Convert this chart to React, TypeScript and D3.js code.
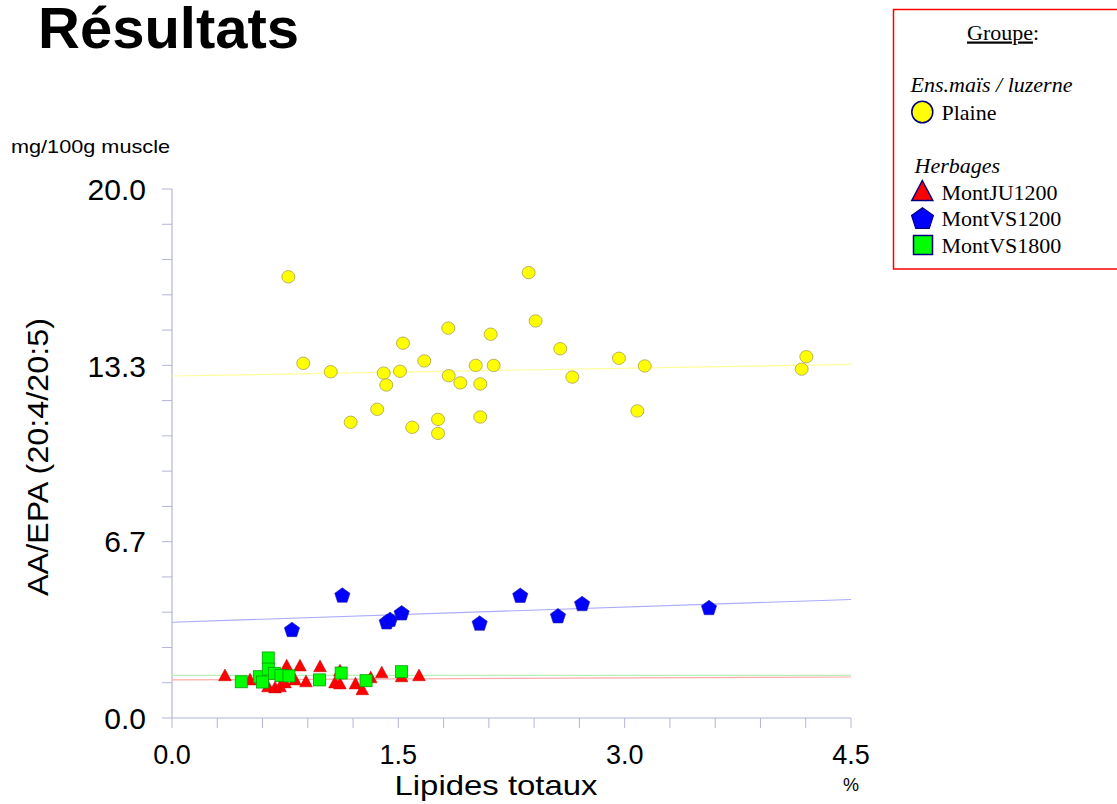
import React from 'react';
import * as d3 from 'd3';

// Lipides totaux (%) vs AA/EPA ratio, one pair of arrays per group
const plaineX = [0.771, 0.870, 1.052, 1.184, 1.360, 1.403, 1.420, 1.511, 1.531, 1.592, 1.672, 1.763, 1.763, 1.831, 1.834, 1.911, 2.013, 2.043, 2.043, 2.112, 2.132, 2.364, 2.410, 2.573, 2.653, 2.962, 3.084, 3.133, 4.173, 4.204];
const plaineY = [16.68, 13.41, 13.09, 11.18, 11.67, 13.04, 12.59, 13.11, 14.17, 10.99, 13.50, 11.29, 10.76, 14.74, 12.94, 12.67, 13.33, 12.63, 11.38, 14.51, 13.33, 16.84, 15.01, 13.96, 12.89, 13.60, 11.61, 13.31, 13.19, 13.66];

const montJUX = [0.351, 0.517, 0.636, 0.683, 0.716, 0.749, 0.760, 0.815, 0.848, 0.888, 0.981, 1.080, 1.113, 1.113, 1.216, 1.261, 1.317, 1.390, 1.522, 1.637];
const montJUY = [1.63, 1.47, 1.21, 1.17, 1.21, 1.36, 2.00, 1.47, 2.00, 1.40, 1.97, 1.36, 1.81, 1.32, 1.32, 1.10, 1.55, 1.74, 1.59, 1.63];

const montVS12X = [0.795, 1.129, 1.423, 1.445, 1.522, 2.039, 2.308, 2.558, 2.718, 3.559];
const montVS12Y = [3.35, 4.65, 3.64, 3.73, 3.98, 3.59, 4.64, 3.87, 4.33, 4.18];

const montVS18X = [0.459, 0.579, 0.600, 0.638, 0.638, 0.678, 0.722, 0.775, 0.977, 1.121, 1.286, 1.521];
const montVS18Y = [1.37, 1.56, 1.36, 2.27, 1.85, 1.69, 1.61, 1.59, 1.44, 1.70, 1.41, 1.75];

// Linear fits: values at x = 0 and x = 4.5
const trendX = [0, 4.5];
const trendPlaine = [12.93, 13.37];
const trendJU = [1.44, 1.55];
const trendVS12 = [3.62, 4.48];
const trendVS18 = [1.61, 1.61];

const xTickLabels = ['0.0', '1.5', '3.0', '4.5'];
const yTickLabels = ['0.0', '6.7', '13.3', '20.0'];

const SANS = '"Liberation Sans", Arial, sans-serif';
const SERIF = '"Liberation Serif", "Times New Roman", serif';

function trianglePath(cx: number, cy: number, w: number, h: number) {
  return `M${cx},${cy - h / 2}L${cx + w / 2},${cy + h / 2}L${cx - w / 2},${cy + h / 2}Z`;
}

function pentagonPath(cx: number, cy: number, r: number) {
  const pts = d3.range(5).map((i) => {
    const a = -Math.PI / 2 + (i * 2 * Math.PI) / 5;
    return [cx + r * Math.cos(a), cy + r * Math.sin(a) + r * 0.1] as [number, number];
  });
  return d3.line()(pts) + 'Z';
}

export default function App() {
  const x = d3.scaleLinear().domain([0, 4.5]).range([172, 851]);
  const y = d3.scaleLinear().domain([0, 20]).range([718, 189]);
  const xMinor = d3.range(16).map((i) => (i * 4.5) / 15);
  const yMinor = d3.range(16).map((i) => (i * 20) / 15);
  const axisColor = '#b4b4da';

  const line = d3
    .line<number>()
    .x((_, i) => x(trendX[i]))
    .y((d) => y(d));

  return (
    <svg
      width={1117}
      height={804}
      style={{ position: 'absolute', left: 0, top: 0, background: '#fff' }}
    >
      <text x={38} y={48} fontFamily={SANS} fontWeight="bold" fontSize={58} fill="#000">
        Résultats
      </text>
      <text x={11} y={153} fontFamily={SANS} fontSize={19} textLength={159} lengthAdjust="spacingAndGlyphs">
        mg/100g muscle
      </text>

      {/* axes */}
      <line x1={x(0)} x2={x(0)} y1={y(20)} y2={y(0)} stroke={axisColor} strokeWidth={1.2} />
      <line x1={x(0)} x2={x(4.5)} y1={y(0)} y2={y(0)} stroke={axisColor} strokeWidth={1.2} />
      {yMinor.map((v, i) => (
        <line key={'yt' + i} x1={x(0) - 10} x2={x(0)} y1={y(v)} y2={y(v)} stroke={axisColor} strokeWidth={1} />
      ))}
      {xMinor.map((v, i) => (
        <line key={'xt' + i} x1={x(v)} x2={x(v)} y1={y(0)} y2={y(0) + 10} stroke={axisColor} strokeWidth={1} />
      ))}

      {yTickLabels.map((t) => (
        <text
          key={'yl' + t}
          x={146}
          y={y(+t)}
          dy="0.36em"
          textAnchor="end"
          fontFamily={SANS}
          fontSize={30}
        >
          {t}
        </text>
      ))}
      {xTickLabels.map((t) => (
        <text
          key={'xl' + t}
          x={x(+t)}
          y={764}
          textAnchor="middle"
          fontFamily={SANS}
          fontSize={27}
        >
          {t}
        </text>
      ))}

      <text x={496} y={795} textAnchor="middle" fontFamily={SANS} fontSize={28} textLength={203} lengthAdjust="spacingAndGlyphs">
        Lipides totaux
      </text>
      <text x={851} y={791} textAnchor="middle" fontFamily={SANS} fontSize={18}>
        %
      </text>
      <text
        transform={`translate(48,457) rotate(-90)`}
        textAnchor="middle"
        fontFamily={SANS}
        fontSize={29}
        textLength={278}
        lengthAdjust="spacingAndGlyphs"
      >
        AA/EPA (20:4/20:5)
      </text>

      {/* fitted lines */}
      <path d={line(trendPlaine) || ''} stroke="#ffff99" strokeWidth={1.2} fill="none" />
      <path d={line(trendVS12) || ''} stroke="#aaaaff" strokeWidth={1.2} fill="none" />
      <path d={line(trendVS18) || ''} stroke="#b8f0b8" strokeWidth={1.2} fill="none" />
      <path d={line(trendJU) || ''} stroke="#ffaaaa" strokeWidth={1.2} fill="none" />

      {/* Plaine */}
      {plaineX.map((v, i) => (
        <ellipse key={'p' + i} cx={x(v)} cy={y(plaineY[i])} rx={6.5} ry={6.2} fill="#ffff00" stroke="#a8a050" strokeWidth={0.8} />
      ))}
      {/* MontVS1200 */}
      {montVS12X.map((v, i) => (
        <path key={'b' + i} d={pentagonPath(x(v), y(montVS12Y[i]), 8)} fill="#0000ff" stroke="#2020a0" strokeWidth={0.6} />
      ))}
      {/* MontJU1200 */}
      {montJUX.map((v, i) => (
        <path key={'r' + i} d={trianglePath(x(v), y(montJUY[i]), 12.7, 11.7)} fill="#ff0000" stroke="#c00000" strokeWidth={0.5} />
      ))}
      {/* MontVS1800 */}
      {montVS18X.map((v, i) => (
        <rect key={'g' + i} x={x(v) - 6} y={y(montVS18Y[i]) - 6} width={12} height={12} fill="#00ff00" stroke="#00a000" strokeWidth={0.8} />
      ))}

      {/* legend */}
      <rect x={893.5} y={9.5} width={240} height={259.5} fill="#fff" stroke="#ff0000" strokeWidth={1.5} />
      <text x={967} y={39.5} fontFamily={SERIF} fontSize={22}>
        <tspan textDecoration="underline">Groupe</tspan>:
      </text>
      <text x={910.5} y={92} fontFamily={SERIF} fontSize={22} fontStyle="italic">
        Ens.maïs / luzerne
      </text>
      <ellipse cx={922.3} cy={112} rx={10.5} ry={10.8} fill="#ffff00" stroke="#000080" strokeWidth={1.5} />
      <text x={941.5} y={119.5} fontFamily={SERIF} fontSize={22}>Plaine</text>
      <text x={914.5} y={173} fontFamily={SERIF} fontSize={22} fontStyle="italic">Herbages</text>
      <path d={trianglePath(922.3, 190.5, 21, 20)} fill="#ff0000" stroke="#000080" strokeWidth={1.5} />
      <text x={941.5} y={199.5} fontFamily={SERIF} fontSize={22}>MontJU1200</text>
      <path d={pentagonPath(922.5, 218, 11.5)} fill="#0000ff" stroke="#000080" strokeWidth={1.2} />
      <text x={941.5} y={226} fontFamily={SERIF} fontSize={22}>MontVS1200</text>
      <rect x={913.5} y={235.5} width={19} height={19} fill="#00ff00" stroke="#000080" strokeWidth={1.5} />
      <text x={941.5} y={252.5} fontFamily={SERIF} fontSize={22}>MontVS1800</text>
    </svg>
  );
}
